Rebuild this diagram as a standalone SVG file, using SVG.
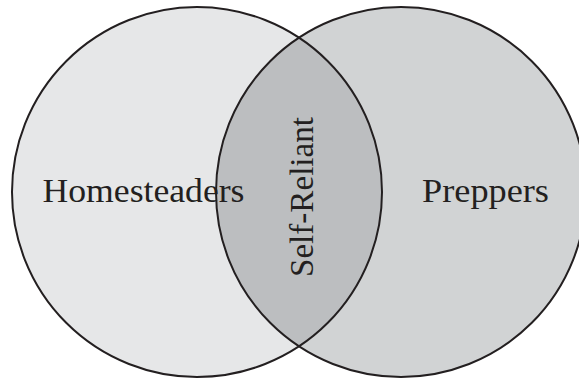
<svg xmlns="http://www.w3.org/2000/svg" width="579" height="378" viewBox="0 0 579 378">
  <style>
    .ring { fill: none; stroke: #231f20; stroke-width: 2; }
    .lbl { font-family: "Liberation Serif", "DejaVu Serif", serif; font-size: 33px; fill: #231f20; }
  </style>
  <rect width="579" height="378" fill="#ffffff"/>
  <g id="homesteaders">
    <circle cx="197" cy="192" r="185" fill="#e6e7e8"/>
  </g>
  <g id="preppers">
    <circle cx="401" cy="192" r="185" fill="#d1d3d4"/>
  </g>
  <g id="self-reliant">
    <path d="M299,37.7 A185,185 0 0 1 299,346.3 A185,185 0 0 1 299,37.7 Z" fill="#bcbec0"/>
  </g>
  <g id="outlines">
    <circle class="ring" cx="197" cy="192" r="185"/>
    <circle class="ring" cx="401" cy="192" r="185"/>
  </g>
  <g id="labels">
    <text class="lbl" x="143.5" y="202" text-anchor="middle" textLength="202" lengthAdjust="spacingAndGlyphs">Homesteaders</text>
    <text class="lbl" x="485.5" y="202" text-anchor="middle" textLength="127" lengthAdjust="spacingAndGlyphs">Preppers</text>
    <text class="lbl" transform="translate(313,197) rotate(-90)" x="0" y="0" text-anchor="middle" textLength="160" lengthAdjust="spacingAndGlyphs">Self-Reliant</text>
  </g>
</svg>
